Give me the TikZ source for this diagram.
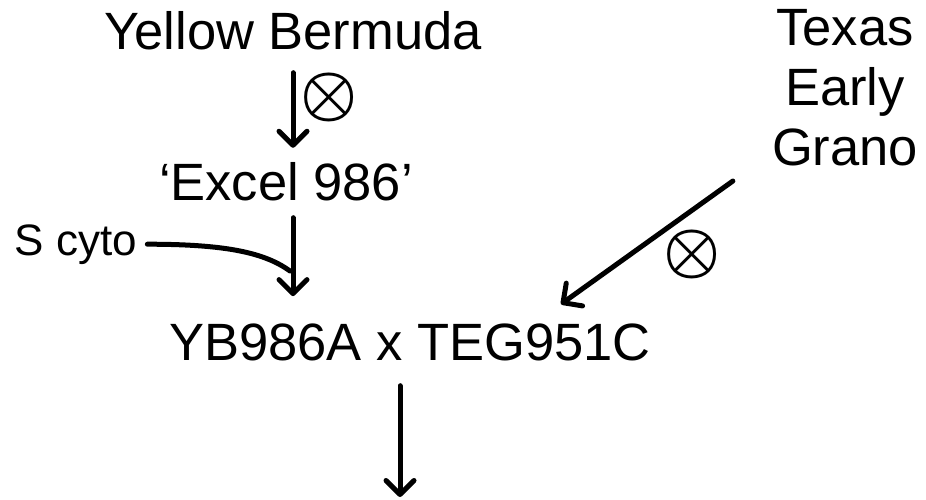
\documentclass[tikz,border=0pt]{standalone}
\usepackage{fontspec}
\setmainfont{Liberation Sans}
\usetikzlibrary{arrows.meta}
\usetikzlibrary{calc}

\tikzset{
  lbl/.style={inner sep=0pt, font=\fontsize{52.5pt}{60pt}\selectfont},
  small/.style={inner sep=0pt, font=\fontsize{44pt}{44pt}\selectfont},
  selfing/.style={inner sep=0pt, scale=6.4, font=\boldmath},
  arr/.style={line width=5pt, line cap=round, -{Straight Barb[round,length=14pt,width=28pt]}},
  link/.style={line width=5pt, line cap=round}
}

\begin{document}
\begin{tikzpicture}[x=1pt,y=-1pt]
\useasboundingbox (0,0) rectangle (926,500);

% lines of the cross
\node[lbl, anchor=base] (yb) at (293,50) {Yellow Bermuda};
\node[lbl, anchor=base] (excel) at (286,200) {‘Excel 986’};
\node[small, anchor=base] (scyto) at (76,255) {S cyto};
\node[lbl, anchor=base] (cross) at (410,360) {YB986A x TEG951C};
\node[lbl, anchor=north, align=center] (teg) at (845,9) {Texas\\Early\\Grano};

% selfing marks
\node[selfing] (self1) at (329,98) {$\otimes$};
\node[selfing] (self2) at (692,254) {$\otimes$};

% points def
\coordinate (join) at (290,271);
\coordinate (seed) at (400,497);

% arrows
\draw[arr, shorten <=22pt, shorten >=14pt] (yb.south) -- (yb.south |- excel.north);
\draw[arr, shorten <=17pt, shorten >=27pt] (yb.south |- excel.south) -- (yb.south |- cross.north);
\draw[arr, shorten <=25pt] (cross.south -| seed) -- (seed);
\draw[arr] ($(teg.south west)+(-39,15)$) -- ($(cross.north)+(151,-19)$);

% cytoplasm
\draw[link] ([xshift=10pt]scyto.east) .. controls +(80,0) and +(-25,-18) .. (join);
\end{tikzpicture}
\end{document}
